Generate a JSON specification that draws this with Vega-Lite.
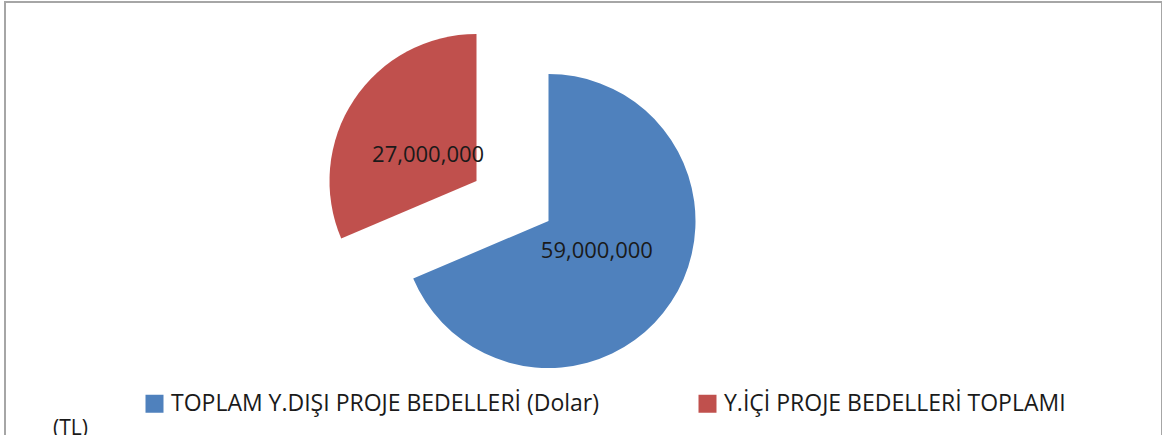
{
  "$schema": "https://vega.github.io/schema/vega-lite/v6.json",
  "width": 1157,
  "height": 460,
  "autosize": "none",
  "padding": {"left": 5, "top": 2, "right": 0, "bottom": 0},
  "background": "white",
  "view": {"stroke": "#a6a6a6", "strokeWidth": 2, "fill": "white"},
  "config": {
    "view": {"stroke": "#a6a6a6", "strokeWidth": 2},
    "font": "Open Sans"
  },
  "title": {
    "text": "(TL)",
    "orient": "bottom",
    "anchor": "start",
    "frame": "group",
    "offset": -44,
    "dx": 48,
    "font": "Open Sans",
    "fontSize": 21,
    "fontWeight": "normal",
    "color": "#1a1a1a"
  },
  "data": {
    "values": [
      {"category": "TOPLAM Y.DIŞI PROJE BEDELLERİ (Dolar)", "value": 59000000},
      {"category": "Y.İÇİ PROJE BEDELLERİ TOPLAMI", "value": 27000000}
    ]
  },
  "encoding": {
    "theta": {"field": "value", "type": "quantitative", "stack": true},
    "order": {"field": "value", "type": "quantitative", "sort": "descending"}
  },
  "layer": [
    {
      "mark": {"type": "arc", "outerRadius": 147, "xOffset": -35, "yOffset": -11},
      "encoding": {
        "color": {
          "field": "category",
          "type": "nominal",
          "scale": {
            "domain": ["TOPLAM Y.DIŞI PROJE BEDELLERİ (Dolar)", "Y.İÇİ PROJE BEDELLERİ TOPLAMI"],
            "range": ["#4f81bd", "#c0504d"]
          },
          "legend": {
            "title": null,
            "orient": "none",
            "legendX": 138,
            "legendY": 390,
            "direction": "horizontal",
            "symbolType": "square",
            "symbolSize": 324,
            "symbolStrokeWidth": 0,
            "symbolOpacity": 1,
            "labelFont": "Open Sans",
            "labelFontSize": 23,
            "labelColor": "#1a1a1a",
            "labelOffset": 5,
            "labelLimit": 700,
            "columnPadding": 96
          }
        },
        "opacity": {"condition": {"test": "datum.value > 50000000", "value": 1}, "value": 0}
      }
    },
    {
      "mark": {"type": "arc", "outerRadius": 147, "xOffset": -107, "yOffset": -51},
      "encoding": {
        "color": {"field": "category", "type": "nominal"},
        "opacity": {"condition": {"test": "datum.value < 50000000", "value": 1}, "value": 0}
      }
    },
    {
      "mark": {"type": "text", "radius": 58, "xOffset": -35, "yOffset": -13, "fontSize": 22, "font": "Open Sans", "color": "#1a1a1a"},
      "encoding": {
        "detail": {"field": "category", "type": "nominal"},
        "text": {"field": "value", "type": "quantitative", "format": ",.0f"},
        "opacity": {"condition": {"test": "datum.value > 50000000", "value": 1}, "value": 0}
      }
    },
    {
      "mark": {"type": "text", "radius": 58, "xOffset": -107, "yOffset": -45, "fontSize": 22, "font": "Open Sans", "color": "#1a1a1a"},
      "encoding": {
        "detail": {"field": "category", "type": "nominal"},
        "text": {"field": "value", "type": "quantitative", "format": ",.0f"},
        "opacity": {"condition": {"test": "datum.value < 50000000", "value": 1}, "value": 0}
      }
    }
  ]
}
